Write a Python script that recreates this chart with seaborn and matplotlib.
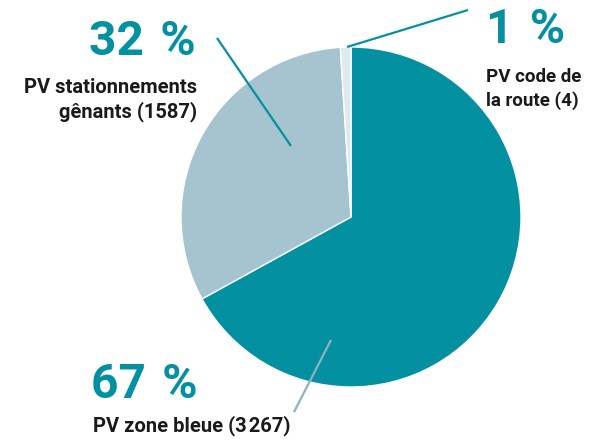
import matplotlib
matplotlib.use("Agg")
import matplotlib.pyplot as plt
import seaborn as sns

categories = ["PV zone bleue", "PV stationnements gênants", "PV code de la route"]
counts = [3267, 1587, 4]
percents = [67, 32, 1]
pct_labels = ["67\u2004%", "32\u2004%", "1\u2004%"]
count_labels = ["PV zone bleue (3\u200a267)", "PV stationnements\ngênants (1587)", "PV code de\nla route (4)"]

sns.set_theme(style="white")
plt.rcParams["font.family"] = ["Roboto", "DejaVu Sans"]

TEAL = "#0391A1"
LIGHT = "#A6C4D0"
LIGHTEST = "#DEEAEF"
colors = [TEAL, LIGHT, LIGHTEST]

W, H = 592, 442
fig = plt.figure(figsize=(W / 100, H / 100), dpi=100)
ax = fig.add_axes([0, 0, 1, 1])

cx, cy, r = 351, H - 217, 170
ax.pie(percents, colors=colors, startangle=90, counterclock=False,
       center=(cx, cy), radius=r,
       wedgeprops=dict(edgecolor="white", linewidth=1.0))
ax.set_xlim(0, W)
ax.set_ylim(0, H)
ax.set_aspect("equal")
ax.axis("off")

def Y(y):
    return H - y

# leader lines
ax.plot([217, 291], [Y(38), Y(146)], color=TEAL, lw=1.6, solid_capstyle="butt")
ax.plot([347, 468], [Y(47), Y(10)], color=TEAL, lw=1.6, solid_capstyle="butt")
ax.plot([331, 294], [Y(340), Y(412)], color="#8DB2C1", lw=1.6, solid_capstyle="butt")

big = dict(fontsize=34.5, fontweight="bold", color=TEAL)
small = dict(fontweight="bold", color="#1a1a1a")

# 32 %
ax.text(196, Y(55), pct_labels[1], ha="right", va="baseline", **big)
ax.text(197, Y(117), count_labels[1], ha="right", va="baseline", multialignment="right",
        fontsize=14.5, linespacing=1.22, **small)
# 1 %
ax.text(486, Y(43), pct_labels[2], ha="left", va="baseline", **big)
ax.text(486, Y(106), count_labels[2], ha="left", va="baseline",
        fontsize=13.5, linespacing=1.35, **small)
# 67 %
ax.text(91, Y(398), pct_labels[0], ha="left", va="baseline", **big)
ax.text(93, Y(431), count_labels[0], ha="left", va="baseline", fontsize=14.5, **small)

fig.savefig("out.png", dpi=100)
